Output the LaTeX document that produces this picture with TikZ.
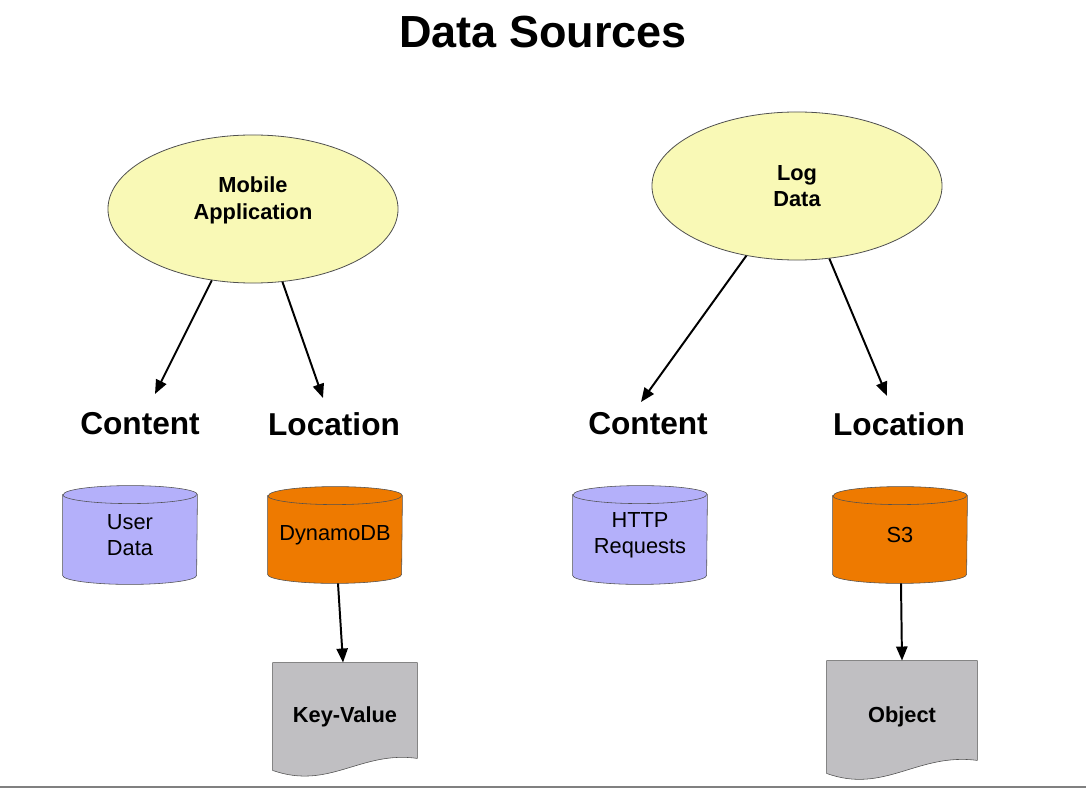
\documentclass[tikz,border=0pt]{standalone}
\usepackage{fontspec}
\setmainfont{Liberation Sans}
\usetikzlibrary{shapes.geometric,arrows.meta,calc,backgrounds}

\definecolor{srcyellow}{RGB}{249,249,182}
\definecolor{storeblue}{RGB}{180,176,250}
\definecolor{storeorange}{RGB}{238,122,0}
\definecolor{docgray}{RGB}{192,191,194}
\definecolor{edge}{RGB}{80,80,80}

\begin{document}
\begin{tikzpicture}[x=0.025cm,y=-0.025cm,line width=.2mm,
    source/.style={draw=edge,ellipse,fill=srcyellow,minimum width=7.25cm,minimum height=3.7cm,inner sep=0pt,
      font=\fontsize{15.5}{19}\selectfont\bfseries,align=center},
    kind/.style={font=\fontsize{22.5}{27}\selectfont\bfseries},
    store/.style={minimum width=3.35cm,minimum height=2cm,inner sep=0pt,font=\fontsize{15.5}{18.5}\selectfont,align=center},
    storeshape/.style={draw=edge},
    doc/.style={inner sep=0pt,font=\fontsize{15.5}{19}\selectfont\bfseries},
    docshape/.style={draw=edge,fill=docgray},
    arr/.style={line width=1.4pt,-{Triangle[length=10pt,width=8pt]}}]
  \useasboundingbox (0,0) rectangle (1086,788);

  \node[font=\fontsize{32}{38}\selectfont\bfseries] (title) at (543,32) {Data Sources};

  \node[source] (mobile) at (253,209) {\raisebox{6pt}[\height][\depth]{\begin{tabular}{@{}c@{}}Mobile\\Application\end{tabular}}};
  \node[source] (log) at (797,186) {Log\\Data};

  \node[kind] (cont1) at (140,424) {Content};
  \node[kind] (loc1) at (334,424) {Location};
  \node[kind] (cont2) at (648,424) {Content};
  \node[kind] (loc2) at (899,424) {Location};

  \node[store] (user) at (130,535) {User\\Data};
  \node[store,minimum height=1.95cm] (dynamo) at (335,535) {DynamoDB};
  \node[store] (http) at (640,535) {HTTP\\Requests};
  \node[store,minimum height=1.95cm] (s3) at (900,535) {S3};

  \node[doc,minimum width=3.6cm,minimum height=2.675cm] (kv) at (345,716.5) {Key-Value};
  \node[doc,minimum width=3.75cm,minimum height=2.8cm] (obj) at (902,717) {Object};

  \begin{pgfonlayer}{background}
    \foreach \n/\c in {user/storeblue,dynamo/storeorange,http/storeblue,s3/storeorange} {
      \draw[storeshape,fill=\c] (\n.north west) -- (\n.south west)
        arc[start angle=180,end angle=360,x radius=1.675cm,y radius=.225cm] -- (\n.north east)
        arc[start angle=0,end angle=180,x radius=1.675cm,y radius=.225cm] -- cycle;
      \draw[storeshape] (\n.north west) arc[start angle=180,end angle=360,x radius=1.675cm,y radius=.225cm];
    }
    \draw[docshape] (kv.north west) -- (kv.north east) -- ($(kv.south east)+(0,-12)$)
      .. controls ($(kv.south east)+(-57,-20)$) and ($(kv.south west)+(57,20)$) .. (kv.south west) -- cycle;
    \draw[docshape] (obj.north west) -- (obj.north east) -- ($(obj.south east)+(0,-13)$)
      .. controls ($(obj.south east)+(-60,-21)$) and ($(obj.south west)+(58,21)$) .. (obj.south west) -- cycle;
  \end{pgfonlayer}

  \draw[arr] (mobile.-120.5) -- ($(cont1)+(15,-30)$);
  \draw[arr] (mobile.-68.2) -- ($(loc1)+(-11,-26)$);
  \draw[arr] (log.-126.3) -- ($(cont2)+(-7,-22)$);
  \draw[arr] (log.-66.1) -- ($(loc2)+(-12,-28)$);
  \draw[arr] ($(dynamo.south)+(3,9)$) -- ($(kv.north)+(-2,0)$);
  \draw[arr] ($(s3.south)+(1,9)$) -- (obj.north);

  \fill[black!50] (0,785.5) rectangle (1086,788);
\end{tikzpicture}
\end{document}
